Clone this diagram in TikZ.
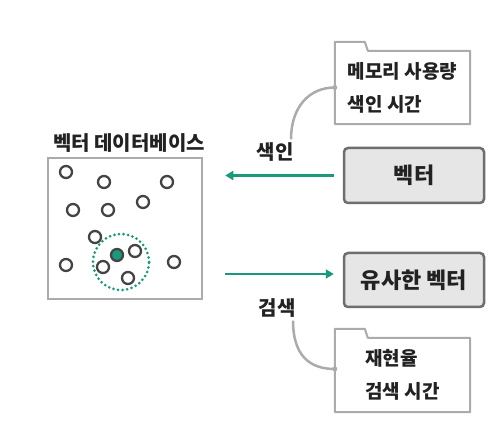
\documentclass[tikz,border=0pt]{standalone}
\usepackage{fontspec}
\newfontfamily\krfont{Noto Sans CJK KR}
\usetikzlibrary{arrows.meta,positioning,calc}
\definecolor{flowgreen}{HTML}{1A9A7C}
\definecolor{dotgray}{HTML}{444444}
\definecolor{framegray}{HTML}{ABABAB}
\definecolor{boxgray}{HTML}{6E6E6E}
\definecolor{boxfill}{HTML}{E6E6E6}
\definecolor{inkgray}{HTML}{222222}

\begin{document}
\begin{tikzpicture}[x=1pt,y=1pt,
    lbl/.style={font=\krfont\bfseries\fontsize{20}{22}\selectfont,text=inkgray,inner sep=2pt},
    vecbox/.style={draw=boxgray,fill=boxfill,line width=2.5pt,rounded corners=4pt,
      minimum width=140pt,minimum height=55pt,font=\krfont\bfseries\fontsize{22}{24}\selectfont,text=inkgray},
    notebox/.style={minimum width=135pt,align=left,
      font=\krfont\bfseries\fontsize{19}{33}\selectfont,text=inkgray},
    notefold/.style={draw=framegray,line width=2pt,line join=round},
    flow/.style={draw=flowgreen,line width=2.5pt,-{Triangle[length=8pt,width=9pt]}},
    link/.style={draw=framegray,line width=2.5pt}]
    \useasboundingbox (0,0) rectangle (498,426);

    % Vector database frame with its title
    \node[draw=framegray,line width=2.5pt,minimum width=154pt,minimum height=141pt] (db) at (125,197.5) {};
    \node[lbl] (dbtitle) at (129,283) {벡터 데이터베이스};

    % Stored vectors (open dots)
    \foreach \x/\y in {66/254,104/244,167/244,73/216,108/216,143/224,95/189,135/175,66/161,103/159,128/148,174/164}{
      \draw[dotgray,line width=2.3pt] (\x,\y) circle (6pt);
    }

    % Query vector and its neighbourhood
    \draw[dotgray,line width=2.3pt,fill=flowgreen] (117,171) circle (6pt);
    \draw[flowgreen,line width=3pt,line cap=round,dash pattern=on 0pt off 4.6pt] (121,164) circle (28pt);

    % Input and result boxes
    \node[vecbox] (vec) at (414,250.5) {벡터};
    \node[vecbox,minimum height=54pt] (sim) at (414,146) {유사한 벡터};

    % Index and search arrows
    \draw[flow,shorten <=9pt,shorten >=22pt] (vec.west) -- (db.east |- vec.west);
    \coordinate (simin) at ([yshift=6pt]sim.west);
    \draw[flow,shorten <=22pt,shorten >=9pt] (db.east |- simin) -- (simin);
    \node[lbl] (idx) at (275,274) {색인};
    \node[lbl] (srch) at (277,118) {검색};

    % Cost notes (folder cards)
    \node[notebox,minimum height=73pt] (costidx) at (402.5,338.5) {메모리 사용량\\색인 시간};
    \draw[notefold] (costidx.south west) -- ($(costidx.north west)+(0,9)$) -- ++(30,0) -- ++(3,-9)
      -- (costidx.north east) -- (costidx.south east) -- cycle;
    \node[notebox,minimum height=74pt] (costsrch) at (402.5,51) {재현율\\검색 시간};
    \draw[notefold] (costsrch.south west) -- ($(costsrch.north west)+(0,9)$) -- ++(30,0) -- ++(3,-9)
      -- (costsrch.north east) -- (costsrch.south east) -- cycle;

    % Links from labels to notes
    \coordinate (idxtip) at (costidx.west);
    \coordinate (srchtip) at ([yshift=6pt]costsrch.west);
    \draw[link] ([xshift=16pt,yshift=1pt]idx.north) .. controls +(0,32) and +(-26,0) .. (idxtip);
    \draw[link] ([xshift=16pt,yshift=-1pt]srch.south) .. controls +(0,-34) and +(-26,0) .. (srchtip);
    \fill[framegray] (idxtip) circle (2.5pt);
    \fill[framegray] (srchtip) circle (2.5pt);
  \end{tikzpicture}
\end{document}
